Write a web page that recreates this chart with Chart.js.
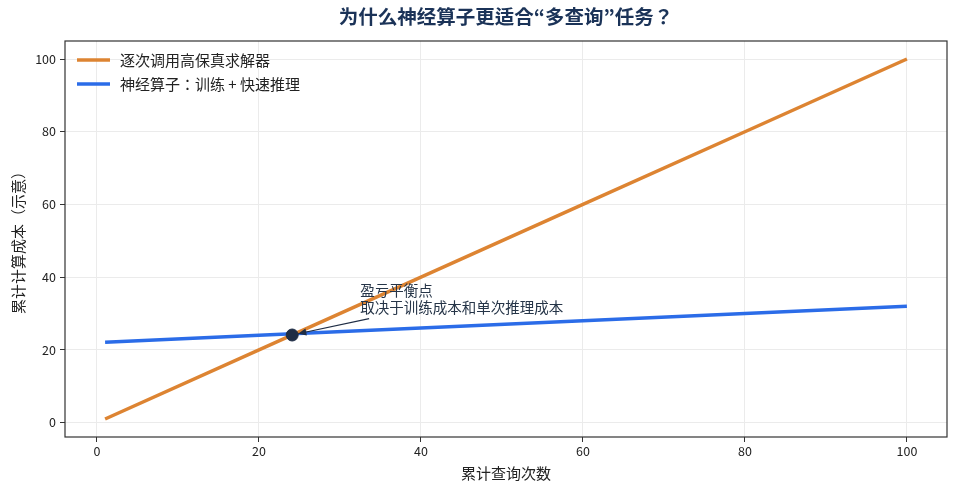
<!DOCTYPE html>
<html>
<head>
<meta charset="utf-8">
<script src="https://cdn.jsdelivr.net/npm/chart.js@4"></script>
<style>
  html, body { margin: 0; padding: 0; background: #fff; }
  #wrap { width: 958px; height: 494px; }
</style>
</head>
<body>
<div id="wrap"><canvas id="costChart" width="958" height="494"></canvas></div>
<script>
// 数据
const queryCounts = [1, 20, 40, 60, 80, 100];
const solverCost = [1, 20, 40, 60, 80, 100];
const operatorCost = [22.1, 24, 26, 28, 30, 32];
const breakEven = [{ x: 24.1, y: 24.1 }];
const xTicks = [0, 20, 40, 60, 80, 100];
const yTicks = [0, 20, 40, 60, 80, 100];

const titleText = '为什么神经算子更适合“多查询”任务？';
const seriesNames = ['逐次调用高保真求解器', '神经算子：训练 + 快速推理'];
const noteLines = ['盈亏平衡点', '取决于训练成本和单次推理成本'];

const FONT = "'Noto Sans CJK JP', 'Noto Sans CJK SC', 'Noto Sans', sans-serif";
const ORANGE = '#dd8432';
const BLUE = '#2b6ce8';
const NAVY = '#1f2d45';

// 标题、边框、图例、注释
const decor = {
    id: 'decor',
    afterDraw(chart) {
        const { ctx, chartArea: a, scales: { x, y } } = chart;
        ctx.save();
        // 边框
        ctx.strokeStyle = '#333';
        ctx.lineWidth = 1.2;
        ctx.strokeRect(a.left, a.top, a.right - a.left, a.bottom - a.top);

        // 标题
        ctx.fillStyle = '#1b3358';
        ctx.font = 'bold 19.5px ' + FONT;
        ctx.textAlign = 'center';
        ctx.textBaseline = 'middle';
        ctx.fillText(titleText, (a.left + a.right) / 2, 17);

        // 图例
        const colors = [ORANGE, BLUE];
        ctx.font = '15px ' + FONT;
        ctx.textAlign = 'left';
        seriesNames.forEach((name, i) => {
            const yy = a.top + 19 + i * 24;
            ctx.strokeStyle = colors[i];
            ctx.lineWidth = 3.5;
            ctx.beginPath();
            ctx.moveTo(a.left + 12, yy);
            ctx.lineTo(a.left + 45, yy);
            ctx.stroke();
            ctx.fillStyle = '#222';
            ctx.fillText(name, a.left + 55, yy);
        });

        // 注释箭头
        const px = x.getPixelForValue(breakEven[0].x);
        const py = y.getPixelForValue(breakEven[0].y);
        const sx = x.getPixelForValue(33.6);
        const sy = y.getPixelForValue(28.6);
        const ang = Math.atan2(py - sy, px - sx);
        const ex = px - Math.cos(ang) * 6, ey = py - Math.sin(ang) * 6;
        ctx.strokeStyle = NAVY;
        ctx.fillStyle = NAVY;
        ctx.lineWidth = 1.2;
        ctx.beginPath();
        ctx.moveTo(sx, sy);
        ctx.lineTo(ex, ey);
        ctx.stroke();
        ctx.beginPath();
        ctx.moveTo(ex, ey);
        ctx.lineTo(ex - Math.cos(ang - 0.4) * 9, ey - Math.sin(ang - 0.4) * 9);
        ctx.lineTo(ex - Math.cos(ang + 0.4) * 9, ey - Math.sin(ang + 0.4) * 9);
        ctx.closePath();
        ctx.fill();

        ctx.font = '14.5px ' + FONT;
        ctx.fillStyle = '#263548';
        const tx = x.getPixelForValue(32.5);
        noteLines.forEach((t, i) => {
            ctx.fillText(t, tx, y.getPixelForValue(36.3) + i * 17);
        });
        ctx.restore();
    }
};

new Chart(document.getElementById('costChart'), {
    type: 'line',
    data: {
        datasets: [
            {
                type: 'scatter',
                label: '盈亏平衡点',
                data: breakEven,
                backgroundColor: NAVY,
                borderColor: NAVY,
                pointRadius: 6,
                order: 0
            },
            {
                label: seriesNames[0],
                data: queryCounts.map((q, i) => ({ x: q, y: solverCost[i] })),
                borderColor: ORANGE,
                borderWidth: 3.5,
                pointRadius: 0,
                tension: 0,
                order: 1
            },
            {
                label: seriesNames[1],
                data: queryCounts.map((q, i) => ({ x: q, y: operatorCost[i] })),
                borderColor: BLUE,
                borderWidth: 3.5,
                pointRadius: 0,
                tension: 0,
                order: 2
            }
        ]
    },
    options: {
        responsive: false,
        animation: false,
        devicePixelRatio: 1,
        layout: { padding: { top: 41, right: 11, left: 0, bottom: 0 } },
        plugins: {
            legend: { display: false },
            title: { display: false },
            tooltip: { enabled: false }
        },
        scales: {
            x: {
                type: 'linear',
                min: -3.95,
                max: 104.95,
                afterBuildTicks: s => { s.ticks = xTicks.map(v => ({ value: v })); },
                afterFit: s => { s.height = 57; },
                grid: { color: '#ebebeb', tickColor: '#333', tickLength: 5, drawOnChartArea: true },
                border: { display: false },
                ticks: { color: '#222', font: { family: FONT, size: 12.5 }, padding: 2, maxRotation: 0 },
                title: {
                    display: true,
                    text: '累计查询次数',
                    color: '#222',
                    font: { family: FONT, size: 15 },
                    padding: { top: 0, bottom: 12 }
                }
            },
            y: {
                type: 'linear',
                min: -3.95,
                max: 104.95,
                afterBuildTicks: s => { s.ticks = yTicks.map(v => ({ value: v })); },
                afterFit: s => { s.width = 65; },
                grid: { color: '#ebebeb', tickColor: '#333', tickLength: 5 },
                border: { display: false },
                ticks: { color: '#222', font: { family: FONT, size: 12.5 }, padding: 4 },
                title: {
                    display: true,
                    text: '累计计算成本（示意）',
                    color: '#222',
                    font: { family: FONT, size: 15 },
                    padding: { top: 9, bottom: 0 }
                }
            }
        }
    },
    plugins: [decor]
});
</script>
</body>
</html>
